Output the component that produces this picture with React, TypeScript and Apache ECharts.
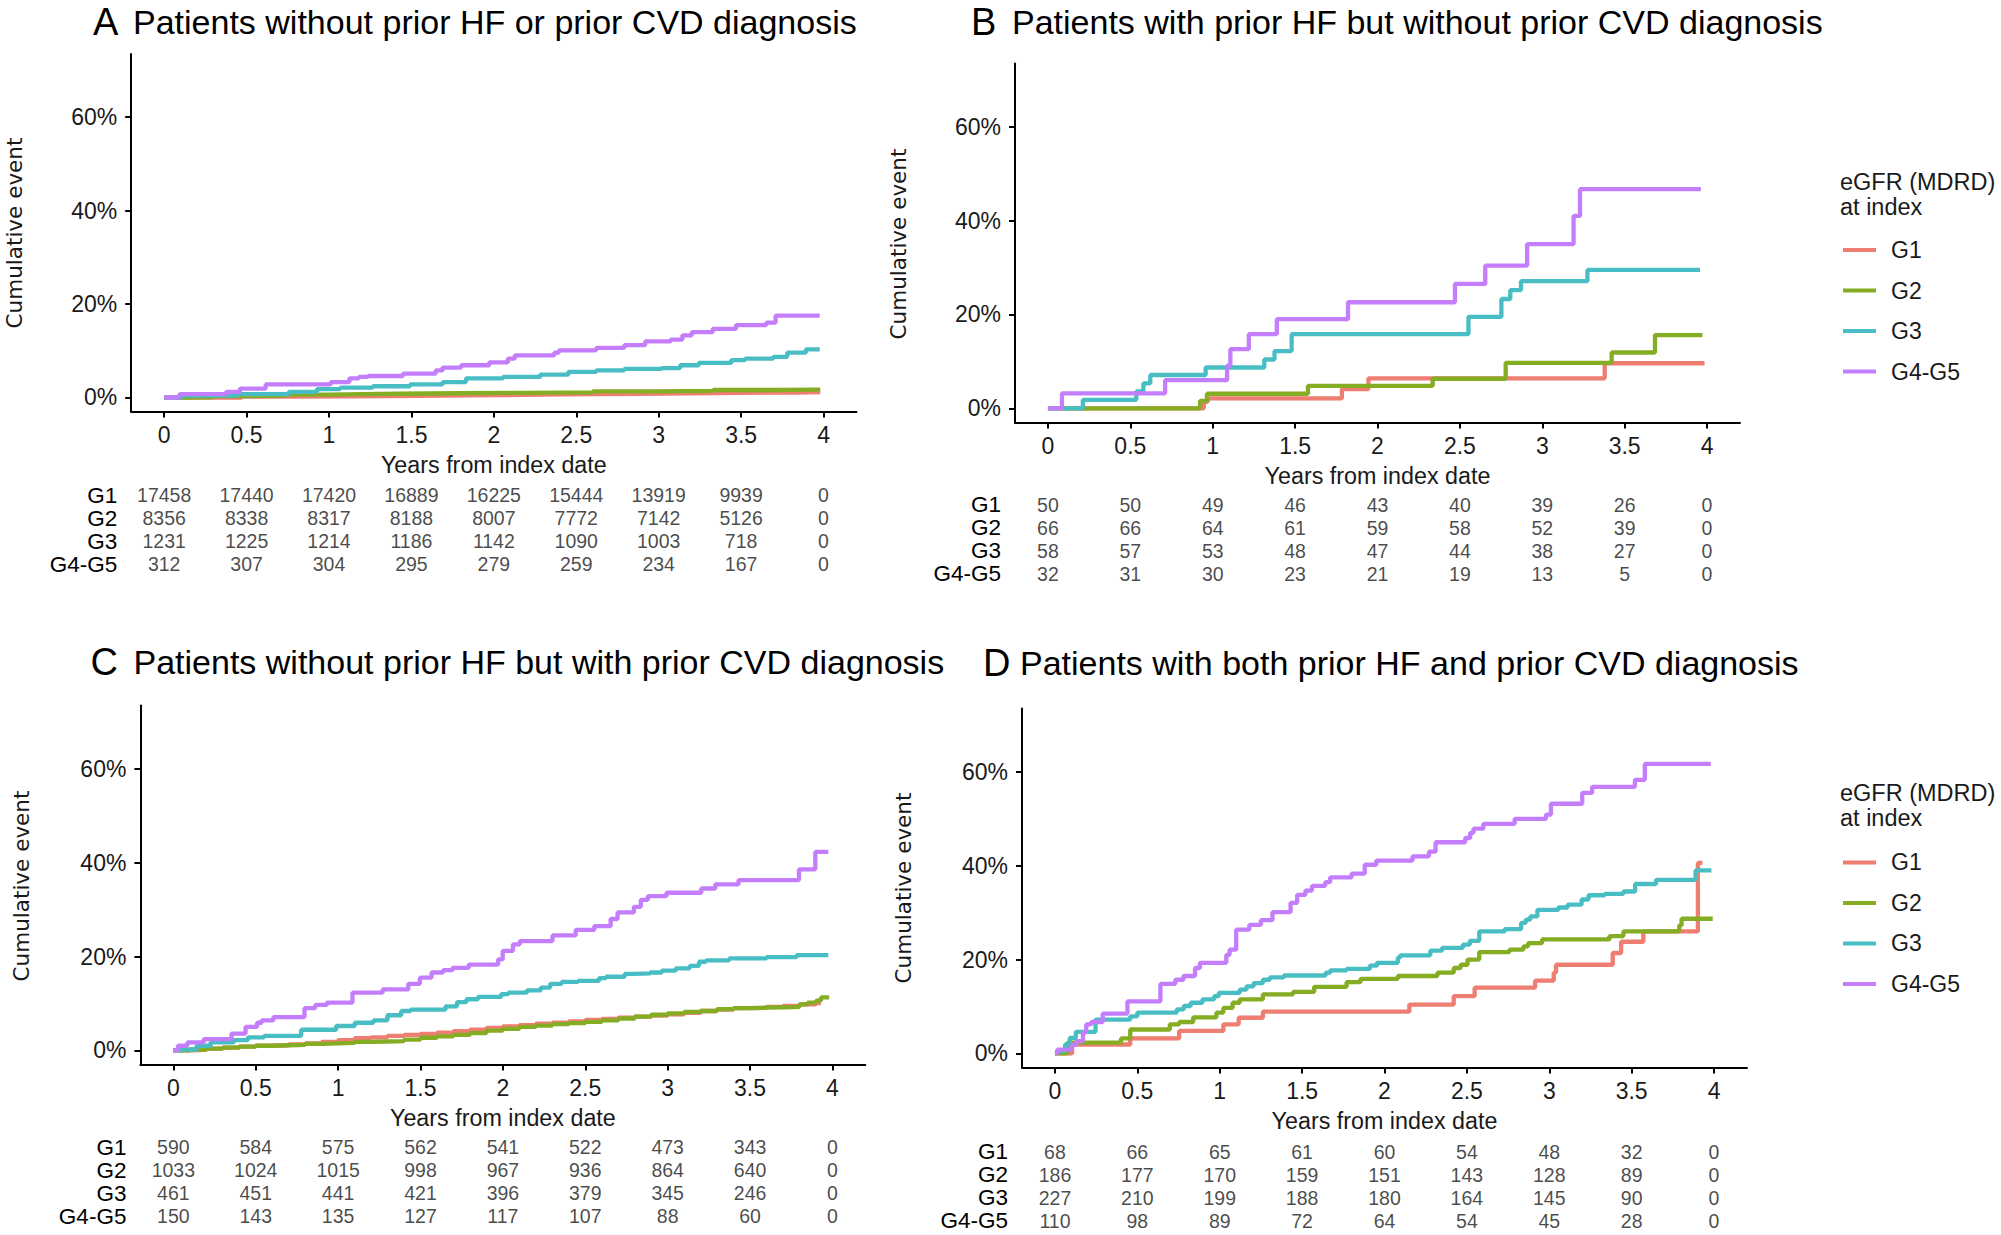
import React, { useEffect, useRef } from 'react';
import * as echarts from 'echarts';

// ---------- data ----------
const groups = ['G1', 'G2', 'G3', 'G4-G5'];
const xTicks = [0, 0.5, 1, 1.5, 2, 2.5, 3, 3.5, 4];
const yTicks = [0, 20, 40, 60];
const riskTimes = [0, 0.5, 1, 1.5, 2, 2.5, 3, 3.5, 4];

// Panel A: cumulative event (%), [years, %]
const aG1 = [[0,0],[0.47,0.2],[0.8,0.3],[1.38,0.4],[1.7,0.5],[2.03,0.6],[2.3,0.7],[2.62,0.8],[2.9,0.9],[3.19,1.0],[3.5,1.05],[3.84,1.15],[3.98,1.15]];
const aG2 = [[0,0],[0.15,0.1],[0.3,0.3],[0.5,0.4],[0.73,0.6],[1.0,0.7],[1.2,0.8],[1.43,0.9],[1.8,1.0],[2.2,1.1],[2.6,1.3],[2.97,1.4],[3.33,1.6],[3.7,1.7],[3.98,1.7]];
const aG3 = [[0,0],[0.107,0.4],[0.446,0.7],[0.757,1.2],[0.927,1.8],[1.068,2.1],[1.266,2.4],[1.492,2.8],[1.689,3.3],[1.831,4.1],[2.056,4.4],[2.282,4.9],[2.452,5.5],[2.621,5.8],[2.791,6.1],[3.017,6.3],[3.13,6.9],[3.243,7.4],[3.441,8.0],[3.525,8.3],[3.695,8.7],[3.78,9.6],[3.893,10.3],[3.977,10.3]];
const aG4 = [[0,0],[0.093,0.7],[0.376,1.2],[0.46,1.9],[0.616,2.8],[1.011,3.3],[1.124,4.1],[1.181,4.4],[1.237,4.6],[1.449,5.1],[1.647,5.8],[1.689,6.4],[1.802,6.9],[1.972,7.5],[2.085,8.3],[2.127,9.0],[2.367,9.6],[2.395,10.1],[2.621,10.6],[2.791,11.2],[2.918,12.0],[3.073,12.4],[3.144,13.3],[3.201,14.0],[3.328,14.7],[3.469,15.5],[3.653,16.0],[3.709,17.5],[3.977,17.5]];

// Panel B
const bG1 = [[0,0],[0.946,1.4],[0.97,2.1],[1.784,4.1],[1.945,6.4],[3.379,9.6],[3.985,9.6]];
const bG2 = [[0,0],[0.923,1.6],[0.965,3.1],[1.578,4.8],[2.335,6.3],[2.778,9.7],[3.421,11.9],[3.684,15.6],[3.972,15.6]];
const bG3 = [[0,0],[0.212,1.8],[0.536,3.6],[0.579,5.3],[0.621,7.1],[0.957,8.7],[1.313,10.4],[1.375,12.2],[1.479,15.8],[2.552,19.5],[2.752,23.3],[2.806,25.2],[2.871,27.1],[3.274,29.5],[3.957,29.5]];
const bG4 = [[0,0],[0.085,3.2],[0.711,6.0],[1.087,9.1],[1.107,12.6],[1.219,15.8],[1.389,19.0],[1.821,22.6],[2.47,26.5],[2.654,30.4],[2.908,35.0],[3.19,41.0],[3.229,46.7],[3.963,46.7]];

// Panel C
const cG1 = [[0,0],[0.1,0.1],[0.2,0.4],[0.3,0.6],[0.4,0.8],[0.5,1.0],[0.6,1.1],[0.7,1.3],[0.8,1.5],[0.9,1.8],[1.0,2.2],[1.1,2.6],[1.2,2.8],[1.3,3.1],[1.4,3.3],[1.5,3.5],[1.6,3.8],[1.7,4.1],[1.8,4.4],[1.9,4.8],[2.0,5.1],[2.1,5.4],[2.2,5.7],[2.3,5.9],[2.4,6.2],[2.5,6.5],[2.6,6.7],[2.7,7.0],[2.8,7.2],[2.9,7.4],[3.0,7.7],[3.1,8.0],[3.2,8.4],[3.3,8.7],[3.4,9.0],[3.5,9.1],[3.6,9.3],[3.7,9.5],[3.8,9.8],[3.9,10.1],[3.93,10.1]];
const cG2 = [[0,0],[0.1,0.2],[0.2,0.4],[0.3,0.6],[0.4,0.8],[0.5,1.0],[0.6,1.1],[0.7,1.2],[0.8,1.4],[0.9,1.5],[1.0,1.6],[1.1,1.8],[1.2,1.9],[1.3,2.0],[1.4,2.3],[1.5,2.7],[1.6,3.0],[1.7,3.3],[1.8,3.7],[1.9,4.2],[2.0,4.6],[2.1,5.0],[2.2,5.3],[2.3,5.6],[2.4,5.8],[2.5,6.1],[2.6,6.4],[2.7,6.8],[2.8,7.2],[2.9,7.6],[3.0,7.9],[3.1,8.2],[3.2,8.4],[3.3,8.8],[3.4,9.0],[3.5,9.1],[3.6,9.2],[3.7,9.3],[3.8,9.8],[3.85,10.2],[3.9,10.6],[3.93,11.3],[3.98,11.3]];
const cG3 = [[0,0],[0.03,0.2],[0.141,1.0],[0.226,1.7],[0.367,2.2],[0.452,2.8],[0.551,3.1],[0.776,4.4],[0.988,5.2],[1.101,5.9],[1.214,6.4],[1.299,7.5],[1.383,8.4],[1.44,8.7],[1.652,9.4],[1.722,10.3],[1.779,10.9],[1.849,11.4],[1.99,12.0],[2.033,12.3],[2.146,12.8],[2.23,13.4],[2.287,14.2],[2.357,14.6],[2.456,14.8],[2.583,15.4],[2.626,15.7],[2.739,16.3],[2.795,16.4],[2.894,16.6],[2.964,17.0],[3.049,17.5],[3.134,18.0],[3.19,18.9],[3.233,19.2],[3.374,19.6],[3.6,19.9],[3.783,20.3],[3.975,20.3]];
const cG4 = [[0,0],[0.028,1.0],[0.085,1.7],[0.184,2.4],[0.353,3.6],[0.438,5.0],[0.508,5.9],[0.536,6.4],[0.607,7.1],[0.796,9.0],[0.861,9.7],[0.932,10.2],[1.087,12.3],[1.27,13.0],[1.426,14.2],[1.496,15.5],[1.567,16.6],[1.637,17.1],[1.694,17.6],[1.793,18.3],[1.971,19.4],[1.999,21.2],[2.061,22.6],[2.103,23.3],[2.301,24.5],[2.442,25.7],[2.555,26.5],[2.654,28.0],[2.696,29.4],[2.795,30.6],[2.837,32.1],[2.88,32.9],[2.993,33.6],[3.204,34.5],[3.289,35.4],[3.43,36.3],[3.797,38.6],[3.896,42.3],[3.975,42.3]];

// Panel D
const dG1 = [[0,0],[0.104,1.9],[0.457,3.2],[0.754,4.8],[1.022,6.2],[1.115,7.6],[1.262,8.9],[2.151,10.4],[2.42,12.2],[2.547,14.0],[2.914,15.5],[3.027,17.2],[3.041,18.9],[3.385,21.4],[3.436,23.8],[3.571,26.0],[3.902,40.6],[3.93,40.6]];
const dG2 = [[0,0],[0.076,2.3],[0.401,3.2],[0.457,5.1],[0.697,6.2],[0.754,6.7],[0.839,7.7],[0.98,8.7],[1.022,9.7],[1.078,10.8],[1.121,11.5],[1.262,12.6],[1.445,13.1],[1.573,14.2],[1.77,15.2],[1.855,15.9],[2.081,16.5],[2.321,17.2],[2.42,18.2],[2.462,18.9],[2.504,20.0],[2.575,21.6],[2.758,22.1],[2.843,22.8],[2.871,23.5],[2.956,24.3],[3.365,25.0],[3.45,26.0],[3.789,27.3],[3.803,28.7],[3.992,28.7]];
const dG3 = [[0,0],[0.014,0.5],[0.062,1.9],[0.09,3.3],[0.127,4.6],[0.246,7.2],[0.457,7.9],[0.5,8.7],[0.74,9.4],[0.782,10.1],[0.824,10.8],[0.895,11.5],[0.966,12.2],[0.994,12.9],[1.121,13.6],[1.163,14.3],[1.206,15.0],[1.262,15.7],[1.304,16.2],[1.389,16.6],[1.643,17.2],[1.671,17.7],[1.77,18.0],[1.911,18.7],[1.954,19.3],[2.081,20.4],[2.095,20.9],[2.278,21.9],[2.349,22.5],[2.476,23.2],[2.518,24.0],[2.575,26.0],[2.73,26.5],[2.829,27.8],[2.857,28.5],[2.885,29.2],[2.928,30.6],[3.055,31.1],[3.111,31.7],[3.196,32.8],[3.238,33.7],[3.337,34.0],[3.45,34.5],[3.521,36.1],[3.648,37.0],[3.888,39.0],[3.984,39.0]];
const dG4 = [[0,0],[0.014,0.8],[0.1,1.8],[0.13,2.6],[0.17,4.5],[0.19,6.2],[0.22,6.7],[0.29,8.5],[0.44,11.1],[0.64,14.8],[0.73,15.7],[0.78,16.5],[0.85,18.2],[0.88,19.3],[1.04,21.0],[1.06,22.1],[1.1,26.4],[1.18,27.4],[1.25,28.4],[1.32,30.1],[1.43,32.1],[1.47,33.8],[1.52,34.7],[1.56,35.7],[1.64,36.5],[1.67,37.5],[1.8,38.3],[1.88,40.2],[1.95,41.1],[2.17,42.0],[2.27,43.0],[2.31,45.0],[2.49,45.9],[2.52,47.0],[2.54,47.9],[2.6,48.9],[2.79,50.0],[2.98,50.9],[3.01,53.2],[3.2,55.5],[3.26,56.8],[3.52,58.3],[3.58,61.7],[3.98,61.7]];

// Numbers at risk
const riskA_G1 = [17458, 17440, 17420, 16889, 16225, 15444, 13919, 9939, 0];
const riskA_G2 = [8356, 8338, 8317, 8188, 8007, 7772, 7142, 5126, 0];
const riskA_G3 = [1231, 1225, 1214, 1186, 1142, 1090, 1003, 718, 0];
const riskA_G4 = [312, 307, 304, 295, 279, 259, 234, 167, 0];
const riskB_G1 = [50, 50, 49, 46, 43, 40, 39, 26, 0];
const riskB_G2 = [66, 66, 64, 61, 59, 58, 52, 39, 0];
const riskB_G3 = [58, 57, 53, 48, 47, 44, 38, 27, 0];
const riskB_G4 = [32, 31, 30, 23, 21, 19, 13, 5, 0];
const riskC_G1 = [590, 584, 575, 562, 541, 522, 473, 343, 0];
const riskC_G2 = [1033, 1024, 1015, 998, 967, 936, 864, 640, 0];
const riskC_G3 = [461, 451, 441, 421, 396, 379, 345, 246, 0];
const riskC_G4 = [150, 143, 135, 127, 117, 107, 88, 60, 0];
const riskD_G1 = [68, 66, 65, 61, 60, 54, 48, 32, 0];
const riskD_G2 = [186, 177, 170, 159, 151, 143, 128, 89, 0];
const riskD_G3 = [227, 210, 199, 188, 180, 164, 145, 90, 0];
const riskD_G4 = [110, 98, 89, 72, 64, 54, 45, 28, 0];

const titles = [
  'Patients without prior HF or prior CVD diagnosis',
  'Patients with prior HF but without prior CVD diagnosis',
  'Patients without prior HF but with prior CVD diagnosis',
  'Patients with both prior HF and prior CVD diagnosis',
];
const letters = ['A', 'B', 'C', 'D'];
const curves = [[aG1, aG2, aG3, aG4], [bG1, bG2, bG3, bG4], [cG1, cG2, cG3, cG4], [dG1, dG2, dG3, dG4]];
const risks = [
  [riskA_G1, riskA_G2, riskA_G3, riskA_G4],
  [riskB_G1, riskB_G2, riskB_G3, riskB_G4],
  [riskC_G1, riskC_G2, riskC_G3, riskC_G4],
  [riskD_G1, riskD_G2, riskD_G3, riskD_G4],
];

// ---------- layout & style ----------
const colors = ['#EE7D72', '#85AD23', '#48BEC4', '#C47EFB'];
const FONT = "'Liberation Sans', Arial, sans-serif";
const layout = [
  { grid: { left: 131.2, top: 54, width: 725.3, height: 357.5 }, table: { top: 483.5, height: 92 }, letterX: 93, textX: 133, titleY: 21.5, yTitle: [14.5, 233], xTitleY: 465, legendTop: null, legendTitleY: null },
  { grid: { left: 1015, top: 63.4, width: 725, height: 359 }, table: { top: 493, height: 92 }, letterX: 971, textX: 1012, titleY: 21.5, yTitle: [898, 244], xTitleY: 476, legendTop: 238, legendTitleY: 182 },
  { grid: { left: 140.4, top: 705.5, width: 725, height: 359 }, table: { top: 1135.5, height: 92 }, letterX: 90.6, textX: 133.5, titleY: 662, yTitle: [21.5, 886], xTitleY: 1117.5, legendTop: null, legendTitleY: null },
  { grid: { left: 1022, top: 708.5, width: 725, height: 359 }, table: { top: 1140, height: 92 }, letterX: 983, textX: 1020, titleY: 663, yTitle: [903, 888], xTitleY: 1120.5, legendTop: 850.4, legendTitleY: 792.5 },
];

function buildOption() {
  const grid: any[] = [];
  const xAxis: any[] = [];
  const yAxis: any[] = [];
  const series: any[] = [];
  const graphic: any[] = [];
  const legend: any[] = [];

  const axisLineStyle = { color: '#000', width: 2 };
  const tickStyle = { color: '#000', width: 2 };

  layout.forEach((L, i) => {
    grid.push({ ...L.grid, containLabel: false });
    xAxis.push({
      gridIndex: i, type: 'value', min: -0.2, max: 4.2,
      axisLine: { show: true, onZero: false, lineStyle: axisLineStyle },
      axisTick: { show: true, customValues: xTicks, length: 6, lineStyle: tickStyle },
      axisLabel: { customValues: xTicks, fontSize: 23, color: '#1a1a1a', margin: 12, fontFamily: FONT },
      splitLine: { show: false },
    });
    yAxis.push({
      gridIndex: i, type: 'value', min: -3, max: 73.5,
      axisLine: { show: true, onZero: false, lineStyle: axisLineStyle },
      axisTick: { show: true, customValues: yTicks, length: 6, lineStyle: tickStyle },
      axisLabel: { customValues: yTicks, formatter: '{value}%', fontSize: 23, color: '#1a1a1a', margin: 14, fontFamily: FONT },
      splitLine: { show: false },
    });
    curves[i].forEach((data, g) => {
      series.push({
        type: 'line', name: groups[g], xAxisIndex: i, yAxisIndex: i, data, step: 'end',
        symbol: 'none', showSymbol: false, silent: true,
        lineStyle: { width: 4.3, color: colors[g] }, itemStyle: { color: colors[g] },
        emphasis: { disabled: true },
      });
    });

    graphic.push({ type: 'text', x: L.letterX, y: L.titleY, style: { text: letters[i], fontSize: 38, fontFamily: FONT, fill: '#000', align: 'left', verticalAlign: 'middle' } });
    graphic.push({ type: 'text', x: L.textX, y: L.titleY, style: { text: titles[i], fontSize: 34, fontFamily: FONT, fill: '#000', align: 'left', verticalAlign: 'middle' } });
    graphic.push({ type: 'text', x: L.yTitle[0], y: L.yTitle[1], rotation: Math.PI / 2, style: { text: 'Cumulative event', fontSize: 21.5, fontFamily: "'DejaVu Sans', sans-serif", fill: '#1a1a1a', align: 'center', verticalAlign: 'middle' } });
    graphic.push({ type: 'text', x: L.grid.left + L.grid.width / 2, y: L.xTitleY, style: { text: 'Years from index date', fontSize: 23.3, fontFamily: FONT, fill: '#1a1a1a', align: 'center', verticalAlign: 'middle' } });

    if (L.legendTop !== null) {
      graphic.push({ type: 'text', x: 1840, y: L.legendTitleY, style: { text: 'eGFR (MDRD)', fontSize: 23.5, fontFamily: FONT, fill: '#1a1a1a', align: 'left', verticalAlign: 'middle' } });
      graphic.push({ type: 'text', x: 1840, y: (L.legendTitleY as number) + 25, style: { text: 'at index', fontSize: 23.5, fontFamily: FONT, fill: '#1a1a1a', align: 'left', verticalAlign: 'middle' } });
      legend.push({
        data: groups, orient: 'vertical', left: 1843, top: L.legendTop, padding: 0,
        itemWidth: 33, itemHeight: 4, itemGap: 16.5, icon: 'rect', selectedMode: false,
        textStyle: { fontSize: 23, lineHeight: 24, fontFamily: FONT, color: '#1a1a1a', padding: [0, 0, 0, 10] },
      });
    }
  });

  // risk tables
  layout.forEach((L, i) => {
    const gi = 4 + i;
    grid.push({ left: L.grid.left, width: L.grid.width, top: L.table.top, height: L.table.height, containLabel: false });
    xAxis.push({ gridIndex: gi, type: 'value', min: -0.2, max: 4.2, show: false });
    yAxis.push({
      gridIndex: gi, type: 'category', data: groups, inverse: true,
      axisLine: { show: false }, axisTick: { show: false }, splitLine: { show: false },
      axisLabel: { interval: 0, fontSize: 22.5, lineHeight: 22, color: '#000', margin: 14, fontFamily: FONT },
    });
    risks[i].forEach((vals, g) => {
      series.push({
        type: 'scatter', xAxisIndex: gi, yAxisIndex: gi, silent: true, symbolSize: 1,
        itemStyle: { color: 'rgba(0,0,0,0)' },
        data: riskTimes.map((t, j) => [t, g, vals[j]]),
        label: { show: true, position: 'inside', formatter: (p: any) => String(p.value[2]), fontSize: 19.5, lineHeight: 20, color: '#1a1a1a', fontFamily: FONT },
        labelLayout: { hideOverlap: false },
        emphasis: { disabled: true },
      });
    });
  });

  return { animation: false, backgroundColor: '#fff', color: colors, grid, xAxis, yAxis, series, graphic, legend };
}

export default function App() {
  const ref = useRef<HTMLDivElement>(null);
  useEffect(() => {
    if (!ref.current) return;
    const chart = echarts.init(ref.current, null, { renderer: 'svg' });
    chart.setOption(buildOption() as any);
    return () => chart.dispose();
  }, []);
  return <div ref={ref} style={{ position: 'fixed', left: 0, top: 0, width: 2001, height: 1235, background: '#fff' }} />;
}
